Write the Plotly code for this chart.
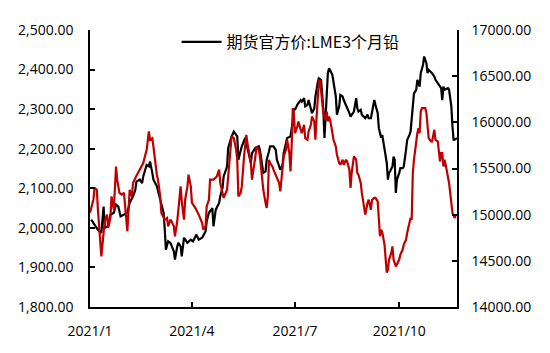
import pandas as pd
import plotly.graph_objects as go

# LME 3-month lead (left axis, USD/t) — day offsets from 2021-01-01
black_day = [1, 7, 10, 12, 13, 16, 18, 21, 23, 25, 27, 30, 33, 35, 38, 40, 41, 44, 46, 47,
             50, 52, 53, 55, 56, 59, 62, 65, 66, 67, 69, 71, 74, 75, 77, 78, 80, 81, 83, 86,
             89, 91, 94, 96, 99, 102, 103, 105, 108, 109, 111, 114, 115, 117, 118, 121, 122, 125, 127, 130,
             131, 134, 137, 139, 140, 142, 143, 146, 149, 150, 152, 153, 155, 156, 158, 159, 162, 164, 165, 167,
             168, 170, 171, 173, 174, 177, 179, 180, 181, 183, 184, 186, 187, 189, 190, 192, 193, 195, 196, 198,
             199, 201, 202, 204, 205, 206, 207, 208, 210, 211, 212, 214, 215, 217, 218, 220, 221, 223, 224, 226,
             227, 229, 230, 232, 233, 235, 236, 237, 239, 240, 242, 243, 245, 246, 248, 249, 251, 252, 254, 255,
             257, 258, 260, 261, 262, 263, 264, 265, 267, 268, 269, 270, 271, 273, 274, 276, 277, 279, 280, 282,
             283, 285, 286, 288, 289, 291, 292, 294, 295, 297, 298, 299, 301, 302, 304, 305, 307, 308, 310, 311,
             312, 313, 316, 317, 319, 320, 321, 322, 324]
black_val = [2021, 1995, 1987, 2054, 2000, 2004, 2033, 2038, 2059, 2054, 2029, 2033, 2038, 2063, 2080, 2096, 2117, 2122, 2113, 2130,
             2159, 2155, 2168, 2139, 2122, 2105, 2071, 2038, 1996, 1945, 1966, 1962, 1941, 1920, 1953, 1962, 1953, 1928, 1975, 1962,
             1970, 1966, 1983, 1970, 1975, 1991, 2016, 2038, 2050, 2004, 2046, 2063, 2080, 2101, 2130, 2155, 2202, 2231, 2243, 2231,
             2172, 2206, 2227, 2197, 2189, 2164, 2189, 2202, 2206, 2197, 2155, 2139, 2143, 2172, 2193, 2206, 2206, 2197, 2172, 2151,
             2147, 2159, 2189, 2214, 2227, 2231, 2269, 2302, 2298, 2311, 2315, 2323, 2319, 2328, 2307, 2311, 2323, 2302, 2290, 2302,
             2332, 2366, 2378, 2374, 2336, 2298, 2227, 2290, 2391, 2403, 2399, 2386, 2366, 2332, 2286, 2307, 2336, 2332, 2323, 2311,
             2302, 2290, 2281, 2290, 2294, 2328, 2302, 2294, 2298, 2286, 2281, 2277, 2286, 2277, 2277, 2290, 2323, 2311, 2290, 2252,
             2228, 2235, 2197, 2172, 2164, 2122, 2139, 2143, 2155, 2180, 2172, 2088, 2122, 2139, 2151, 2151, 2155, 2197, 2222, 2235,
             2243, 2307, 2340, 2349, 2374, 2357, 2391, 2412, 2433, 2416, 2391, 2399, 2395, 2391, 2382, 2374, 2366, 2361, 2353, 2323,
             2357, 2349, 2353, 2349, 2307, 2256, 2223, 2223, 2227]

# Second series (right axis, CNY/t) — day offsets from 2021-01-01
red_day = [0, 3, 4, 6, 7, 9, 10, 12, 13, 15, 16, 18, 19, 21, 22, 23, 24, 26, 28, 30,
           33, 34, 35, 37, 38, 40, 43, 46, 47, 50, 52, 53, 55, 56, 58, 59, 60, 62, 63, 65,
           66, 68, 69, 71, 72, 74, 75, 77, 78, 80, 81, 83, 84, 86, 87, 89, 90, 93, 96, 99,
           100, 102, 103, 105, 106, 109, 112, 114, 115, 117, 118, 121, 122, 124, 125, 127, 128, 129, 130, 131,
           133, 134, 136, 137, 138, 139, 140, 142, 143, 145, 146, 147, 149, 150, 152, 153, 155, 156, 157, 158,
           159, 161, 162, 164, 165, 167, 168, 169, 170, 171, 173, 174, 176, 177, 178, 179, 180, 181, 183, 184,
           186, 187, 189, 190, 192, 193, 195, 196, 198, 199, 200, 201, 202, 203, 204, 205, 206, 207, 208, 209,
           210, 211, 212, 214, 215, 217, 218, 220, 221, 223, 224, 226, 227, 229, 230, 231, 232, 233, 235, 236,
           237, 239, 240, 242, 243, 245, 246, 248, 249, 251, 252, 254, 255, 256, 257, 258, 260, 261, 262, 263,
           264, 266, 267, 268, 270, 271, 273, 274, 276, 277, 279, 280, 282, 283, 284, 285, 286, 288, 289, 290,
           291, 292, 293, 295, 296, 297, 298, 299, 301, 302, 304, 305, 307, 308, 309, 310, 311, 312, 313, 314,
           316, 317, 319, 320, 322, 323]
red_val = [15020, 15162, 15289, 15270, 15054, 14657, 14549, 14802, 14928, 15000, 14856, 14964, 15198, 15054, 15343, 15522, 15379, 15235, 15216, 15235,
           14820, 15054, 15270, 15198, 15343, 15397, 15468, 15522, 15559, 15703, 15901, 15811, 15829, 15738, 15487, 15433, 15379, 15198, 15019, 14964,
           14946, 14964, 14874, 14946, 14928, 14874, 14766, 14928, 15054, 15306, 15144, 14946, 15162, 15306, 15433, 15306, 15127, 15073, 15000, 14910,
           14838, 14874, 15090, 15162, 15379, 15379, 15414, 15487, 15343, 15235, 15181, 15270, 15414, 15630, 15847, 15829, 15775, 15703, 15595, 15198,
           15235, 15306, 15630, 15738, 15865, 15775, 15703, 15559, 15379, 15522, 15630, 15738, 15703, 15630, 15414, 15270, 15127, 15073, 15198, 15595,
           15559, 15522, 15487, 15433, 15414, 15343, 15252, 15360, 15468, 15630, 15703, 15811, 15667, 15468, 15738, 16154, 16081, 15883, 15955, 16009,
           15919, 15883, 15973, 15829, 15811, 15901, 15973, 16063, 16009, 15811, 16045, 16262, 16441, 16460, 16316, 16154, 16100, 16063, 16027, 16117,
           16009, 16063, 16027, 15883, 15811, 15738, 15649, 15559, 15541, 15595, 15541, 15595, 15576, 15487, 15289, 15451, 15559, 15630, 15595, 15451,
           15433, 15343, 15235, 15036, 15000, 15127, 15162, 15054, 15162, 15181, 15181, 15144, 14946, 14766, 14838, 14811, 14676, 14535, 14373, 14406,
           14514, 14586, 14657, 14514, 14441, 14460, 14514, 14568, 14622, 14676, 14730, 14802, 14928, 14964, 14946, 15451, 15595, 15811, 15883, 15937,
           15883, 16117, 16154, 16154, 16154, 16100, 15991, 15829, 15793, 15793, 15919, 15811, 15793, 15703, 15576, 15667, 15667, 15522, 15595, 15541,
           15414, 15343, 15127, 15019, 14964, 15000]

x_tickvals = ["2021-01-01", "2021-04-01", "2021-07-01", "2021-10-01"]
x_ticktext = ["2021/1", "2021/4", "2021/7", "2021/10"]
black_name = "期货官方价:LME3个月铅"

base = pd.Timestamp("2021-01-01")
black_dates = base + pd.to_timedelta(black_day, unit="D")
red_dates = base + pd.to_timedelta(red_day, unit="D")

fig = go.Figure()
fig.add_trace(go.Scatter(x=red_dates, y=red_val, mode="lines", yaxis="y2",
                         line=dict(color="#C00000", width=2.2), showlegend=False, name="red"))
fig.add_trace(go.Scatter(x=black_dates, y=black_val, mode="lines", yaxis="y",
                         line=dict(color="#000000", width=2.2), name=black_name))

tickfont = dict(family="Open Sans", size=14, color="#000000")
fig.update_layout(
    width=550, height=353,
    margin=dict(l=90, r=93, t=30, b=46),
    paper_bgcolor="white", plot_bgcolor="white",
    showlegend=True,
    legend=dict(x=0.236, y=0.957, xanchor="left", yanchor="middle",
                bgcolor="rgba(0,0,0,0)", itemwidth=40,
                font=dict(family="Noto Sans CJK SC", size=16, color="#000000")),
    xaxis=dict(type="date", range=["2021-01-01", "2021-11-21"],
               tickvals=x_tickvals, ticktext=x_ticktext,
               showgrid=False, zeroline=False, showline=True, linecolor="#000000", linewidth=1.5,
               ticks="inside", ticklen=5, tickwidth=1.5, tickcolor="#000000",
               tickfont=tickfont, ticklabelstandoff=10),
    yaxis=dict(range=[1800, 2500], dtick=100, tickformat=",.2f",
               showgrid=False, zeroline=False, showline=True, linecolor="#000000", linewidth=1.5,
               ticks="inside", ticklen=5, tickwidth=1.5, tickcolor="#000000",
               tickfont=tickfont, ticklabelstandoff=12),
    yaxis2=dict(range=[14000, 17000], dtick=500, tickformat=".2f", overlaying="y", side="right",
                showgrid=False, zeroline=False, showline=True, linecolor="#000000", linewidth=1.5,
                ticks="inside", ticklen=5, tickwidth=1.5, tickcolor="#000000",
                tickfont=tickfont, ticklabelstandoff=10),
)

fig.write_html("out.html")
